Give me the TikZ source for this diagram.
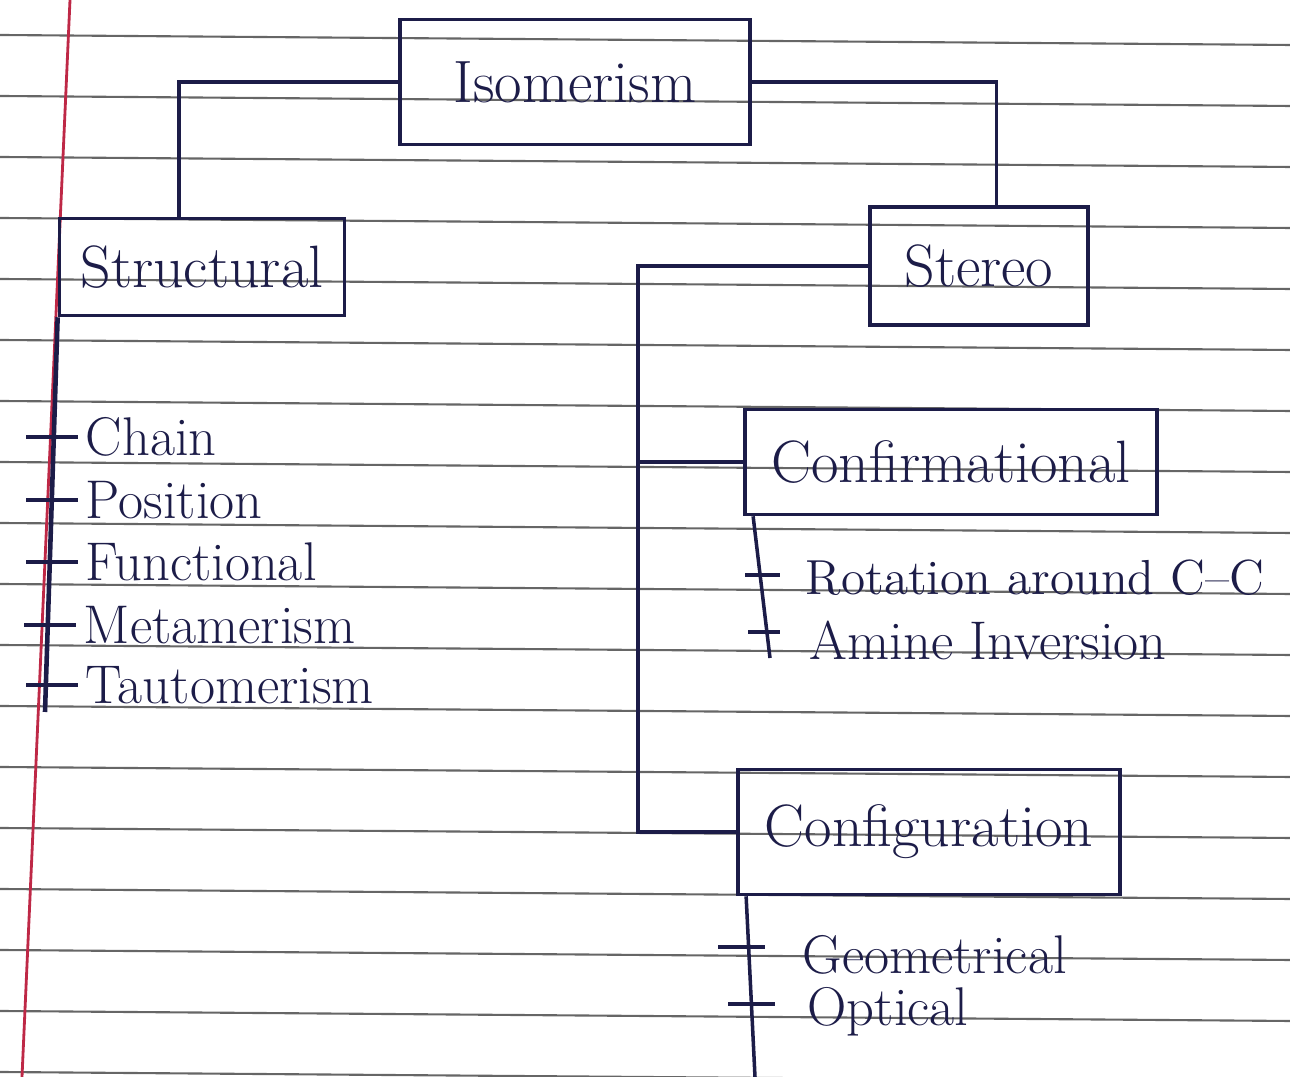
\documentclass[tikz,border=0pt]{standalone}
\usepackage{tikz}
\usetikzlibrary{calc, positioning}
\definecolor{encre}{RGB}{28,28,72}
\definecolor{marge}{RGB}{190,40,70}

\begin{document}
\begin{tikzpicture}[
	x=0.01cm, y=-0.01cm,
	boite/.style={draw=encre, line width=1pt, text=encre, font=\fontsize{17}{20}\selectfont, inner sep=0pt},
	feuille/.style={anchor=west, text=encre, font=\fontsize{15.5}{18}\selectfont, inner sep=2pt},
	lien/.style={draw=encre, line width=1pt},
	regle/.style={draw=black!60, line width=0.6pt}
	]
	\useasboundingbox (0,0) rectangle (1290,1077);

	% Le papier
	\foreach \k in {0,...,17}
		\draw[regle] (0,35+61*\k) -- (1290,45+61*\k);
	\draw[marge, line width=0.8pt] (70,0) -- (22,1077);

	% Les boites
	\node[boite, minimum width=3.5cm, minimum height=1.25cm] (iso) at (575,82) {Isomerism};
	\node[boite, minimum width=2.85cm, minimum height=0.97cm] (struc) at (202,267) {Structural};
	\node[boite, minimum width=2.18cm, minimum height=1.18cm] (ster) at (979,266) {Stereo};
	\node[boite, minimum width=4.12cm, minimum height=1.05cm] (conf) at (951,462) {Confirmational};
	\node[boite, minimum width=3.82cm, minimum height=1.25cm] (config) at (929,832) {Configuration};

	% Les feuilles
	\node[feuille] (chain) at (78,437) {Chain};
	\node[feuille] (posi) at (78,500) {Position};
	\node[feuille] (fonc) at (78,562) {Functional};
	\node[feuille] (meta) at (76,625) {Metamerism};
	\node[feuille] (tauto) at (78,685) {Tautomerism};
	\node[feuille, font=\fontsize{14}{17}\selectfont] (rot) at (798,578) {Rotation around C--C};
	\node[feuille] (amine) at (802,640) {Amine Inversion};
	\node[feuille] (geo) at (795,955) {Geometrical};
	\node[feuille] (opt) at (800,1012) {Optical};

	% Les liens
	\draw[lien] (iso.west) -| ($(struc.north west)!.42!(struc.north east)$);
	\draw[lien] (iso.east) -| ($(ster.north west)!.58!(ster.north east)$);
	\draw[lien] (ster.west) -- ++(-230,0) coordinate (coin) |- (config.west);
	\draw[lien] (conf.west) -- (conf.west -| coin);

	% Les branches
	\coordinate (fs) at (45,712);
	\draw[lien, line width=1.3pt] (struc.south west) -- (fs);
	\foreach \f in {chain, posi, fonc, meta, tauto}
		\draw[lien] ($(\f.west)+(-52,0)$) -- (\f.west);

	\coordinate (fc) at (770,658);
	\draw[lien] ($(conf.south west)+(10,0)$) -- (fc);
	\draw[lien] ($(rot.west)+(-53,-3)$) -- ($(rot.west)+(-18,-3)$);
	\draw[lien] ($(amine.west)+(-54,-8)$) -- ($(amine.west)+(-22,-8)$);

	\coordinate (fg) at (755,1077);
	\draw[lien] ($(config.south west)+(10,0)$) -- (fg);
	\draw[lien] ($(geo.west)+(-77,-8)$) -- ($(geo.west)+(-30,-8)$);
	\draw[lien] ($(opt.west)+(-72,-8)$) -- ($(opt.west)+(-25,-8)$);
\end{tikzpicture}
\end{document}
